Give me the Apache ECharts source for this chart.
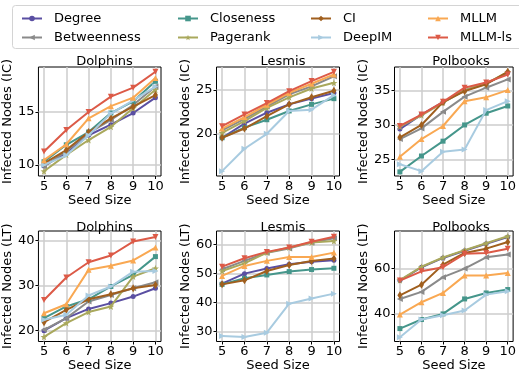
<!DOCTYPE html>
<html><head><meta charset="utf-8">
<script src="https://cdn.jsdelivr.net/npm/echarts@6/dist/echarts.min.js"></script>
<style>html,body{margin:0;padding:0;background:#fff}#c{width:519px;height:377px}</style>
</head><body><div id="c"></div>
<script>
const seedSizes = [5, 6, 7, 8, 9, 10];
const methods = ['Degree', 'Betweenness', 'Closeness', 'Pagerank', 'CI', 'DeepIM', 'MLLM', 'MLLM-ls'];
const datasets = ['Dolphins', 'Lesmis', 'Polbooks'];

// rows follow the order of `methods`
const dolphinsIC = [
  [9.9, 11.1, 12.8, 13.8, 14.9, 16.35],
  [9.85, 11.3, 13.0, 14.25, 15.65, 17.4],
  [10.3, 11.9, 13.1, 14.9, 16.0, 17.9],
  [9.4, 10.95, 12.35, 13.6, 15.35, 17.1],
  [10.15, 11.4, 13.1, 14.4, 15.5, 16.6],
  [10.0, 10.9, 12.8, 14.85, 16.1, 17.4],
  [10.45, 11.95, 14.4, 15.55, 16.35, 18.2],
  [11.26, 13.3, 15.0, 16.45, 17.3, 18.8]
];
const lesmisIC = [
  [19.55, 21.15, 22.4, 23.35, 24.0, 24.65],
  [20.4, 21.7, 23.1, 24.5, 25.4, 26.55],
  [19.55, 20.7, 21.6, 22.6, 23.35, 24.0],
  [20.1, 21.45, 22.95, 24.15, 25.15, 25.8],
  [19.55, 20.6, 22.0, 23.35, 24.15, 24.9],
  [15.75, 18.3, 20.0, 22.6, 22.75, 24.4],
  [20.6, 21.9, 23.3, 24.65, 25.7, 26.75],
  [20.87, 22.2, 23.5, 24.85, 26.0, 27.05]
];
const polbooksIC = [
  [29.4, 31.5, 33.3, 35.0, 36.0, 37.6],
  [27.95, 29.5, 31.9, 34.1, 35.4, 36.6],
  [23.2, 25.5, 27.65, 30.0, 31.7, 32.75],
  [29.75, 31.4, 33.25, 35.05, 36.0, 37.7],
  [28.2, 30.0, 33.3, 34.9, 35.9, 37.7],
  [24.3, 23.3, 26.1, 26.45, 32.15, 33.45],
  [25.4, 27.95, 29.85, 33.45, 34.0, 35.05],
  [29.85, 31.5, 33.35, 35.4, 36.15, 37.3]
];
const dolphinsLT = [
  [19.95, 22.75, 24.8, 26.1, 27.55, 29.4],
  [20.15, 22.75, 26.45, 27.9, 29.4, 30.75],
  [22.75, 25.35, 26.95, 29.8, 32.4, 36.45],
  [18.6, 21.65, 24.1, 25.35, 32.0, 33.85],
  [21.85, 24.6, 26.95, 28.05, 29.4, 30.15],
  [22.4, 23.5, 27.8, 29.8, 33.1, 33.25],
  [23.85, 25.85, 33.5, 34.4, 35.6, 38.45],
  [26.8, 31.8, 35.2, 36.7, 39.8, 40.8]
];
const lesmisLT = [
  [46.55, 50.0, 51.8, 53.2, 54.1, 54.6],
  [51.5, 54.4, 57.2, 58.7, 60.7, 62.2],
  [46.3, 48.4, 49.55, 50.7, 51.4, 51.85],
  [50.9, 53.55, 57.25, 59.0, 60.7, 61.25],
  [46.3, 47.7, 50.9, 53.0, 54.35, 55.2],
  [28.5, 28.15, 29.65, 39.65, 41.4, 43.1],
  [49.2, 52.65, 54.4, 55.75, 55.75, 57.25],
  [52.4, 55.3, 57.5, 59.0, 61.0, 62.75]
];
const polbooksLT = [
  [54.7, 60.6, 64.7, 67.9, 71.0, 73.95],
  [46.6, 49.7, 56.2, 60.0, 65.0, 66.2],
  [33.5, 37.5, 40.0, 46.6, 49.25, 50.75],
  [54.9, 60.8, 64.9, 68.1, 71.2, 74.3],
  [48.2, 52.9, 61.75, 66.9, 68.8, 71.75],
  [29.7, 37.5, 39.4, 41.5, 48.5, 50.0],
  [39.7, 45.15, 49.25, 56.9, 56.9, 58.1],
  [54.7, 58.8, 60.6, 66.5, 66.9, 68.8]
];

const yTicksIC = [[10, 15], [20, 25], [25, 30, 35]];
const yTicksLT = [[20, 30, 40], [30, 40, 50, 60], [40, 60]];
const yRangeIC = [[8.95, 19.25], [15.2, 27.6], [22.6, 38.4]];
const yRangeLT = [[17.55, 42.15], [26.6, 64.7], [27.8, 76.6]];

const colors = ['#5a4fa2', '#8a8a8a', '#45968b', '#a9a85c', '#a05f1e', '#a8cbe0', '#f9a852', '#dc5a47'];
const star = 'path://M0,-10L2.35,-3.24L9.51,-3.09L3.8,1.24L5.88,8.09L0,4L-5.88,8.09L-3.8,1.24L-9.51,-3.09L-2.35,-3.24Z';
const symbols = ['circle', 'triangle', 'rect', star, 'diamond', 'triangle', 'triangle', 'triangle'];
const rotates = [0, 90, 0, 0, 0, -90, 0, 180];
const sizes = [5, 6, 5, 7, [5, 8], 6, 6, 6];

const panels = [
  { data: dolphinsIC, title: datasets[0], ticks: yTicksIC[0], range: yRangeIC[0], yName: 'Infected Nodes (IC)', row: 0, col: 0 },
  { data: lesmisIC, title: datasets[1], ticks: yTicksIC[1], range: yRangeIC[1], yName: 'Infected Nodes (IC)', row: 0, col: 1 },
  { data: polbooksIC, title: datasets[2], ticks: yTicksIC[2], range: yRangeIC[2], yName: 'Infected Nodes (IC)', row: 0, col: 2 },
  { data: dolphinsLT, title: datasets[0], ticks: yTicksLT[0], range: yRangeLT[0], yName: 'Infected Nodes (LT)', row: 1, col: 0 },
  { data: lesmisLT, title: datasets[1], ticks: yTicksLT[1], range: yRangeLT[1], yName: 'Infected Nodes (LT)', row: 1, col: 1 },
  { data: polbooksLT, title: datasets[2], ticks: yTicksLT[2], range: yRangeLT[2], yName: 'Infected Nodes (LT)', row: 1, col: 2 }
];

const FONT = 'DejaVu Sans';
const gridLefts = [38, 216.5, 394.5];
const gridTops = [67, 231];
const gridW = 123, gridHs = [109, 110.5];
const titleOffsets = [17, 15];

const grid = [], xAxis = [], yAxis = [], series = [], title = [];
panels.forEach((p, i) => {
  const left = gridLefts[p.col], top = gridTops[p.row], h = gridHs[p.row];
  grid.push({ left, top, width: gridW, height: h, show: true, borderColor: '#000', borderWidth: 1, backgroundColor: 'transparent' });
  title.push({ text: p.title, left: left + gridW / 2, top: top - titleOffsets[p.row], textAlign: 'center',
    textStyle: { fontFamily: FONT, fontSize: 13, fontWeight: 'normal', color: '#000' } });
  xAxis.push({
    type: 'value', gridIndex: i, min: 4.75, max: 10.25,
    name: 'Seed Size', nameLocation: 'middle', nameGap: 18,
    nameTextStyle: { fontFamily: FONT, fontSize: 13, color: '#000' },
    axisLine: { show: false },
    axisTick: { show: true, length: 3, lineStyle: { color: '#000' }, customValues: seedSizes },
    axisLabel: { fontFamily: FONT, fontSize: 13, color: '#000', margin: 4, customValues: seedSizes },
    splitLine: { show: true, lineStyle: { color: '#cccccc', width: 1.5 } }
  });
  yAxis.push({
    type: 'value', gridIndex: i, min: p.range[0], max: p.range[1],
    name: p.yName, nameLocation: 'middle', nameGap: 23,
    nameTextStyle: { fontFamily: FONT, fontSize: 13, color: '#000' },
    axisLine: { show: false },
    axisTick: { show: true, length: 3, lineStyle: { color: '#000' }, customValues: p.ticks },
    axisLabel: { fontFamily: FONT, fontSize: 13, color: '#000', margin: 4, customValues: p.ticks },
    splitLine: { show: true, lineStyle: { color: '#cccccc', width: 1.5 } }
  });
  methods.forEach((m, k) => {
    series.push({
      type: 'line', name: m, xAxisIndex: i, yAxisIndex: i,
      data: seedSizes.map((s, j) => [s, p.data[k][j]]),
      symbol: symbols[k], symbolRotate: rotates[k], symbolSize: sizes[k],
      showAllSymbol: true, animation: false, z: 2 + k,
      lineStyle: { color: colors[k], width: 2 },
      itemStyle: { color: colors[k], borderWidth: 0 },
      emphasis: { disabled: true }
    });
  });
});

// legend: 4 columns x 2 rows (filled column-wise)
const legendX = [16, 172, 305, 422];
const legend = [0, 1, 2, 3].map(c => ({
  orient: 'vertical', left: legendX[c], top: 7,
  data: [methods[c * 2], methods[c * 2 + 1]],
  itemWidth: 20, itemHeight: 7, itemGap: 6,
  selectedMode: false,
  textStyle: { fontFamily: FONT, fontSize: 13, color: '#000', padding: [0, 0, 0, 7], lineHeight: 13 }
}));

const chart = echarts.init(document.getElementById('c'), null, { renderer: 'canvas' });
chart.setOption({
  backgroundColor: '#fff',
  animation: false,
  color: colors,
  title, grid, xAxis, yAxis, series, legend,
  graphic: [{
    type: 'rect', left: 12, top: 5, z: -1,
    shape: { width: 530, height: 43, r: 3 },
    style: { fill: '#fff', stroke: '#d4d4d4', lineWidth: 1 }
  }]
});
</script></body></html>
